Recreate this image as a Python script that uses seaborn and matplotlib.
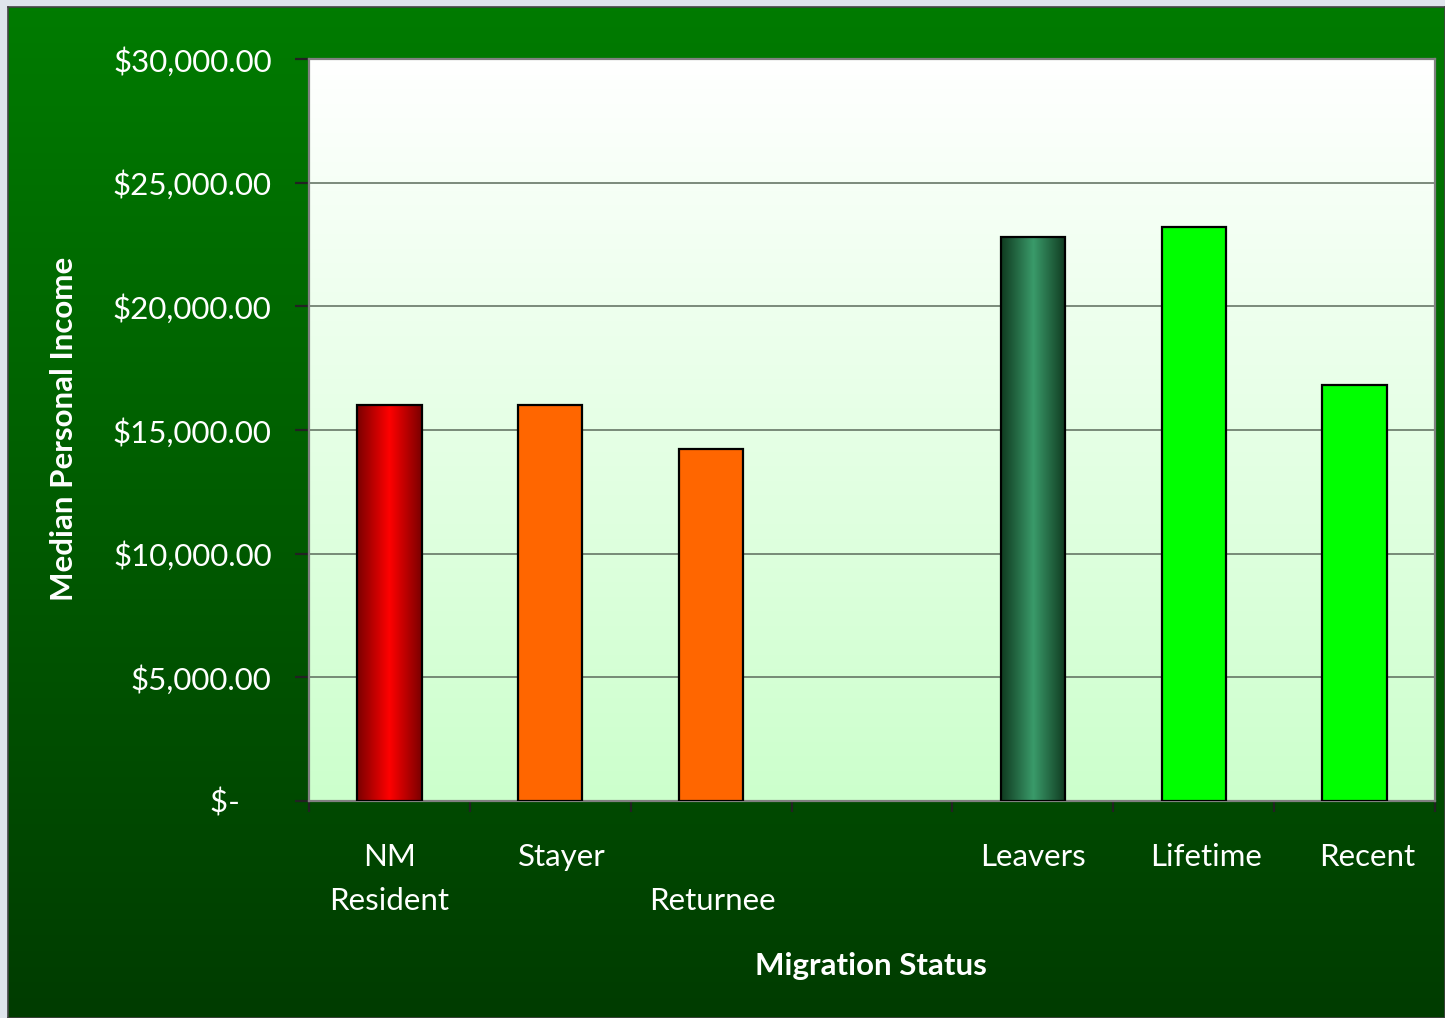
import numpy as np
import pandas as pd
import matplotlib
matplotlib.use("Agg")
import matplotlib.pyplot as plt
import matplotlib.transforms as mtrans
from matplotlib.colors import LinearSegmentedColormap
import seaborn as sns

# ---------------- data ----------------
categories = ["NM Resident", "Stayer", "Returnee", " ", "Leavers", "Lifetime", "Recent"]
tick_labels = ["NM\nResident", "Stayer", "\nReturnee", "", "Leavers", "Lifetime", "Recent"]
income = [16000, 16000, 14230, np.nan, 22800, 23200, 16800]
y_ticks = [0, 5000, 10000, 15000, 20000, 25000, 30000]
bar_colors = ["#ff0000", "#ff6600", "#ff6600", "#ffffff", "#2e8b57", "#00ff00", "#00ff00"]
gradient_bars = {"NM Resident": ("#7a0000", "#ff0000"), "Leavers": ("#0f3a1f", "#3a9a6a")}
label_dx = [0, 12, 1, 0, 0, 12, 13]

df = pd.DataFrame({"status": categories, "income": income})

sns.set_theme(style="white")
plt.rcParams["font.family"] = ["Lato", "DejaVu Sans"]

W, H = 1445, 1018
fig = plt.figure(figsize=(W / 100, H / 100), dpi=100)
fig.patch.set_facecolor("#dfe4ec")

# green chart-area background
bg = fig.add_axes([8 / W, 0, 1 - 8 / W, 1 - 7 / H], zorder=-10)
green = LinearSegmentedColormap.from_list("g", ["#003c00", "#007b00"])
bg.imshow(np.linspace(0, 1, 256).reshape(-1, 1), cmap=green, aspect="auto",
          extent=[0, 1, 0, 1], origin="lower")
bg.set_xticks([]); bg.set_yticks([])
for s in bg.spines.values():
    s.set_color("#444444"); s.set_linewidth(1.2)

# plot area
L, R, T, B = 309, 1435, 59, 801
ax = fig.add_axes([L / W, (H - B) / H, (R - L) / W, (B - T) / H])
ax.patch.set_alpha(0)

plot_bg = LinearSegmentedColormap.from_list("p", ["#ccffcc", "#ffffff"])
ax.imshow(np.linspace(0, 1, 256).reshape(-1, 1), cmap=plot_bg, aspect="auto",
          extent=[0, 1, 0, 1], origin="lower", transform=ax.transAxes, zorder=-5)

sns.barplot(data=df, x="status", y="income", hue="status", order=categories,
            hue_order=categories, palette=bar_colors, width=0.4, legend=False,
            saturation=1, edgecolor="black", linewidth=1.6, ax=ax,
            errorbar=None, zorder=3)

# horizontal gradient fill on selected bars
for p in list(ax.patches):
    x, y = p.get_x(), p.get_y()
    w, h = p.get_width(), p.get_height()
    if not np.isfinite(h) or h == 0:
        continue
    idx = int(round(x + w / 2))
    name = categories[idx]
    if name in gradient_bars:
        dark, light = gradient_bars[name]
        cm = LinearSegmentedColormap.from_list("b", [dark, light, dark])
        grad = np.linspace(0, 1, 256).reshape(1, -1)
        im = ax.imshow(grad, cmap=cm, aspect="auto", extent=[x, x + w, y, y + h],
                       zorder=p.get_zorder() - 0.05)
        im.set_clip_path(p)
        p.set_facecolor("none")

ax.set_xlim(-0.5, len(categories) - 0.5)
ax.set_ylim(0, 30000)

# gridlines
ax.set_yticks(y_ticks)
ax.yaxis.grid(True, color="#5b6b5b", linewidth=1.1, zorder=1)
ax.xaxis.grid(False)
ax.set_axisbelow(True)

def money(v):
    return "$-    " if v == 0 else f"${v:,.2f}"
ax.set_yticklabels([money(v) for v in y_ticks], color="white", fontsize=22.5)
ax.tick_params(axis="y", which="major", length=10, width=1.6, color="#222222",
               left=True, pad=27)
for lab in ax.get_yticklabels():
    lab.set_transform(lab.get_transform() + mtrans.ScaledTranslation(0.14, 0, fig.dpi_scale_trans))

# x ticks at category boundaries, labels at centers
ax.set_xticks(np.arange(-0.5, len(categories)), minor=False)
ax.set_xticklabels([""] * (len(categories) + 1))
ax.set_xticks(np.arange(len(categories)), minor=True)
ax.set_xticklabels(tick_labels, minor=True, color="white", fontsize=22.5,
                   linespacing=1.72)
ax.tick_params(axis="x", which="major", length=8, width=1.6, color="#222222",
               bottom=True, direction="out")
ax.tick_params(axis="x", which="minor", length=0, pad=30)
for lab, dx in zip(ax.xaxis.get_minorticklabels(), label_dx):
    lab.set_verticalalignment("top")
    lab.set_transform(lab.get_transform() + mtrans.ScaledTranslation(dx / 100, 0, fig.dpi_scale_trans))

for s in ax.spines.values():
    s.set_visible(True)
    s.set_color("#808080")
    s.set_linewidth(1.6)

ax.set_xlabel("")
ax.set_ylabel("")
fig.text(871 / W, 1 - 966 / H, "Migration Status", color="white", fontsize=22.5,
         fontweight="bold", ha="center", va="center")
fig.text(64 / W, 1 - 429 / H, "Median Personal Income", color="white", fontsize=22.5,
         fontweight="bold", ha="center", va="center", rotation=90)

fig.savefig("out.png", dpi=100, facecolor=fig.get_facecolor())
